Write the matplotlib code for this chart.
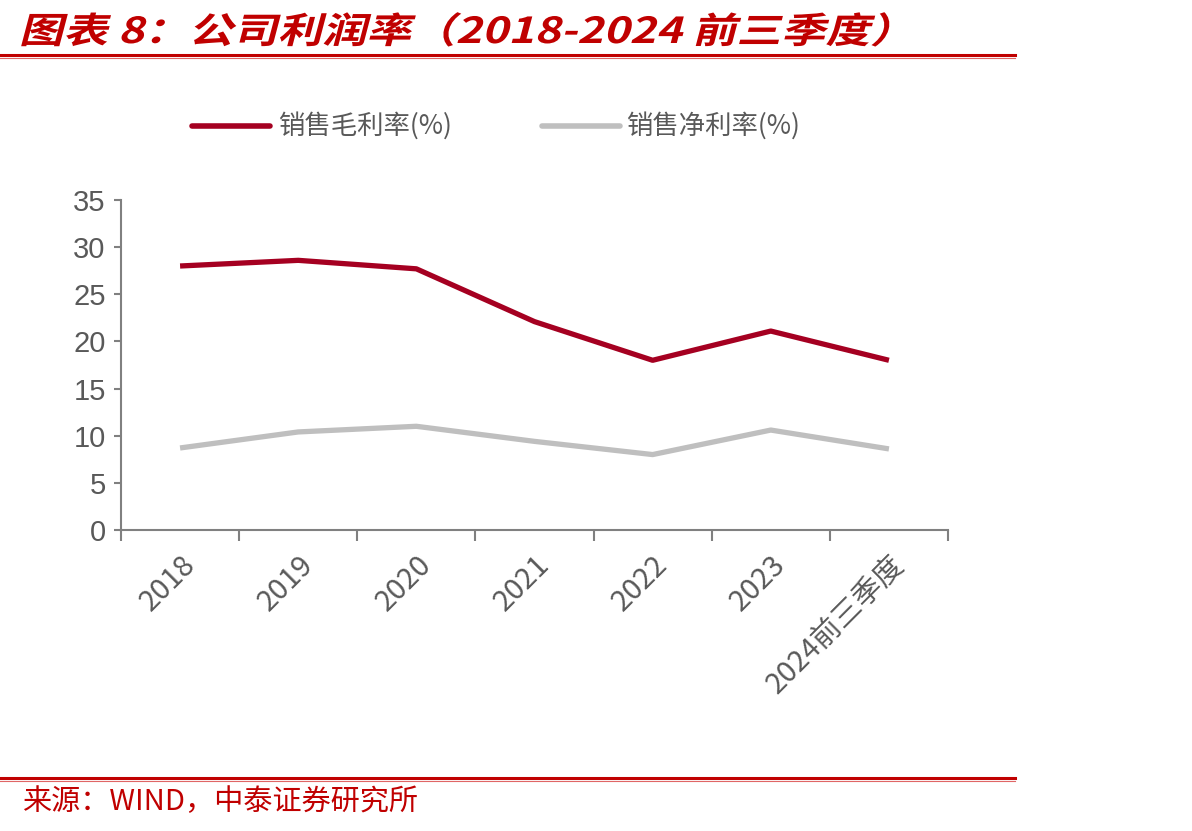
import matplotlib
matplotlib.use("Agg")
import matplotlib.pyplot as plt
from matplotlib.textpath import TextPath
from matplotlib.patches import PathPatch
from matplotlib.font_manager import FontProperties
from matplotlib.transforms import Affine2D, IdentityTransform
from matplotlib.lines import Line2D
import numpy as np

plt.rcParams['font.family'] = ['Liberation Sans Narrow', 'Liberation Sans', 'Noto Sans CJK SC', 'DejaVu Sans']

# data
years = ["2018", "2019", "2020", "2021", "2022", "2023", "2024前三季度"]
gross_margin = [28.0, 28.6, 27.7, 22.1, 18.0, 21.1, 18.0]   # 销售毛利率(%)
net_margin = [8.7, 10.4, 11.0, 9.4, 8.0, 10.6, 8.6]          # 销售净利率(%)

red = "#A50021"
grey = "#BFBFBF"
axis_grey = "#808080"
text_grey = "#595959"
brand_red = "#C00000"

fig = plt.figure(figsize=(11.92, 8.31), dpi=100)
ax = fig.add_axes([121 / 1192, 1 - 530 / 831, (948 - 121) / 1192, 330 / 831])

x = np.arange(len(years))
ax.plot(x, gross_margin, color=red, lw=3.8, solid_capstyle="butt", solid_joinstyle="round")
ax.plot(x, net_margin, color=grey, lw=3.8, solid_capstyle="butt", solid_joinstyle="round")

ax.set_xlim(-0.5, len(years) - 0.5)
ax.set_ylim(0, 35)
ax.set_yticks(range(0, 36, 5))
ax.set_xticks(x)
ax.set_xticklabels(years, rotation=45, ha="right", va="top", rotation_mode="anchor",
                   fontsize=21, color=text_grey,
                   family=['Liberation Sans Narrow', 'Noto Sans CJK SC', 'DejaVu Sans'])
ax.set_xticks(np.arange(-0.5, len(years)), minor=True)
ax.tick_params(axis="x", which="major", length=0, pad=14)
ax.tick_params(axis="x", which="minor", length=8, width=1.5, color=axis_grey, direction="out")
ax.tick_params(axis="y", length=5, width=1.5, color=axis_grey, labelsize=21,
               labelcolor=text_grey, pad=6)

for s in ["top", "right"]:
    ax.spines[s].set_visible(False)
for s in ["left", "bottom"]:
    ax.spines[s].set_color(axis_grey)
    ax.spines[s].set_linewidth(1.5)

# legend drawn in figure coords
cjk = ['Noto Sans CJK SC', 'DejaVu Sans']
fig.add_artist(Line2D([192 / 1192, 270 / 1192], [1 - 126 / 831] * 2, color=red, lw=4,
                      solid_capstyle="round"))
fig.text(278 / 1192, 1 - 126 / 831, "销售毛利率(%)", fontsize=19, color=text_grey,
         va="center", ha="left", family=cjk)
fig.add_artist(Line2D([542 / 1192, 620 / 1192], [1 - 126 / 831] * 2, color=grey, lw=4,
                      solid_capstyle="round"))
fig.text(626 / 1192, 1 - 126 / 831, "销售净利率(%)", fontsize=19, color=text_grey,
         va="center", ha="left", family=cjk)

# title, skewed to look italic
title = "图表 8：公司利润率（2018-2024 前三季度）"
tp = TextPath((0, 0), title, size=32,
              prop=FontProperties(family="Noto Sans CJK SC", weight="bold"))
ext = tp.get_extents()
scale = (885 - 22) / ext.width
tr = Affine2D().skew_deg(12, 0).scale(scale, 1.12).translate(22 - ext.x0 * scale, 831 - 43)
fig.add_artist(PathPatch(tr.transform_path(tp), transform=IdentityTransform(),
                         facecolor=brand_red, edgecolor="none"))

# header and footer rules
for yy in [55, 778]:
    fig.add_artist(Line2D([0, 1015 / 1192], [1 - yy / 831] * 2, color=brand_red, lw=2.2))
    fig.add_artist(Line2D([0, 1015 / 1192], [1 - (yy + 2.5) / 831] * 2, color="#E06666", lw=0.8))

fig.text(22 / 1192, 1 - 802 / 831, "来源：WIND，中泰证券研究所", fontsize=21, color=brand_red,
         va="center", ha="left", family=['Noto Sans CJK SC', 'DejaVu Sans'])

fig.savefig("out.png", dpi=100)
